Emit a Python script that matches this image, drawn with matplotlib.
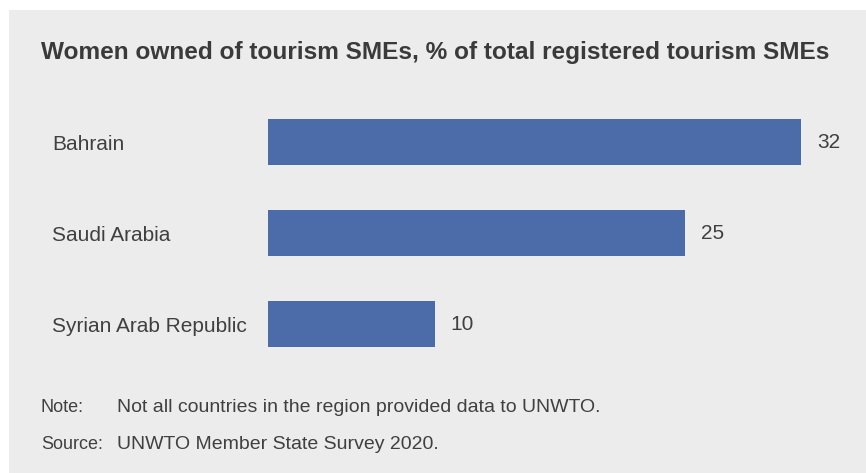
import matplotlib.pyplot as plt
from matplotlib.patches import Rectangle

plt.rcParams['font.family'] = ['Liberation Sans', 'DejaVu Sans']

# Anteil frauengeführter Tourismus-KMU (%)
countries = ['Bahrain', 'Saudi Arabia', 'Syrian Arab Republic']
shares = [32, 25, 10]

title = 'Women owned of tourism SMEs, % of total registered tourism SMEs'
note = 'Not all countries in the region provided data to UNWTO.'
source = 'UNWTO Member State Survey 2020.'

bg = '#ebeceb'
bar_color = '#4b6ca9'
text_color = '#404040'

W, H = 866, 473
fig = plt.figure(figsize=(W / 100, H / 100), dpi=100, facecolor='white')

# grauer Hintergrundkasten
fig.patches.append(Rectangle((9 / W, 0), 1 - 9 / W, 1 - 10 / H,
                             transform=fig.transFigure, facecolor=bg,
                             edgecolor='none', zorder=-1))

ax = fig.add_axes([268 / W, 1 - 369.5 / H, 598 / W, 273 / H])
ax.set_zorder(1)
ax.set_facecolor('none')
ypos = range(len(countries))
ax.barh(ypos, shares, height=0.505, color=bar_color)
ax.set_xlim(0, 598 / 16.67)
ax.set_ylim(len(countries) - 0.5, -0.5)

for y, v in zip(ypos, shares):
    ax.annotate(str(v), (v, y), xytext=(11.5, 0), textcoords='offset points',
                va='center', ha='left', fontsize=15, color=text_color)

ax.set_xticks([])
ax.set_yticks(list(ypos), countries)
ax.tick_params(axis='y', length=0, pad=(268 - 52) * 0.72, labelsize=15,
               labelcolor=text_color)
for lbl in ax.get_yticklabels():
    lbl.set_ha('left')
for s in ax.spines.values():
    s.set_visible(False)

fig.text(41 / W, 1 - 52 / H, title, fontsize=17.6, fontweight='bold',
         color='#3a3a3a', va='center', ha='left')
fig.text(41 / W, 1 - 407 / H, 'Note:', fontsize=13, color=text_color, va='center')
fig.text(117 / W, 1 - 407 / H, note, fontsize=14, color=text_color, va='center')
fig.text(41 / W, 1 - 444 / H, 'Source:', fontsize=13, color=text_color, va='center')
fig.text(117 / W, 1 - 444 / H, source, fontsize=14, color=text_color, va='center')

fig.savefig('out.png', dpi=100, facecolor=fig.get_facecolor())
